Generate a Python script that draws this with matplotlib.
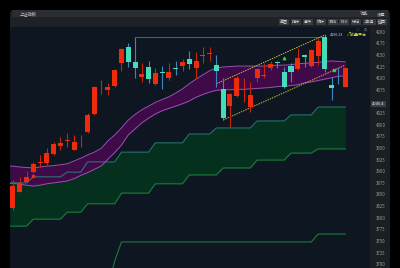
import matplotlib
matplotlib.use("Agg")
import matplotlib.pyplot as plt
import numpy as np
from matplotlib.patches import Rectangle, FancyBboxPatch

plt.rcParams['font.family'] = ['Noto Sans CJK SC', 'DejaVu Sans']

# --- candle data ---
opens = [3821, 3856, 3877, 3898, 3917, 3918, 3937, 3954, 3966, 3946,
         3964, 3984, 4023, 4080, 4075, 4083, 4133, 4167, 4135, 4103,
         4124, 4088, 4113, 4100, 4122, 4126, 4141, 4122, 4147, 4153,
         4128, 4077, 4040, 4062, 4074, 4038, 4100, 4104, 4122, 4133,
         4113, 4126, 4120, 4150, 4126, 4148, 4189, 4085, 4107, 4081]
closes = [3868, 3875, 3888, 3916, 3918, 3939, 3959, 3961, 3967, 3963,
          3965, 4021, 4081, 4081, 4081, 4118, 4163, 4135, 4122, 4109,
          4098, 4111, 4111, 4113, 4120, 4135, 4131, 4137, 4148, 4154,
          4116, 4015, 4066, 4100, 4075, 4064, 4120, 4105, 4131, 4132,
          4081, 4113, 4143, 4146, 4161, 4180, 4120, 4079, 4106, 4122]
highs = [3881, 3888, 3901, 3920, 3935, 3950, 3963, 3974, 3982, 3978,
         3978, 4025, 4083, 4096, 4090, 4120, 4165, 4176, 4189, 4133,
         4137, 4122, 4126, 4133, 4137, 4141, 4159, 4156, 4167, 4167,
         4150, 4100, 4068, 4105, 4100, 4092, 4122, 4133, 4137, 4137,
         4124, 4133, 4165, 4151, 4163, 4187, 4195, 4103, 4122, 4124]
lows = [3817, 3855, 3875, 3897, 3909, 3914, 3935, 3946, 3952, 3945,
        3952, 3982, 4021, 4066, 4064, 4081, 4116, 4124, 4100, 4092,
        4090, 4086, 4077, 4096, 4107, 4116, 4120, 4098, 4133, 4137,
        4081, 4010, 3995, 4060, 4049, 4027, 4092, 4100, 4118, 4122,
        4079, 4092, 4118, 4124, 4124, 4128, 4113, 4053, 4088, 4081]

# purple moving-average band
band_upper = [3911, 3909, 3908, 3907, 3909, 3911, 3912, 3914, 3916, 3922,
              3928, 3935, 3941, 3949, 3965, 3978, 3993, 4010, 4022, 4032,
              4040, 4048, 4054, 4060, 4068, 4077, 4088, 4098, 4107, 4116,
              4122, 4124, 4125, 4126, 4126, 4126, 4126, 4126, 4127, 4128,
              4128, 4129, 4131, 4132, 4133, 4134, 4136, 4137, 4136, 4135]
band_lower = [3874, 3872, 3870, 3868, 3870, 3873, 3875, 3877, 3879, 3884,
              3891, 3897, 3904, 3911, 3926, 3940, 3956, 3978, 3991, 4004,
              4014, 4023, 4030, 4035, 4040, 4045, 4051, 4059, 4065, 4070,
              4074, 4075, 4075, 4076, 4076, 4077, 4078, 4079, 4080, 4082,
              4083, 4084, 4086, 4090, 4092, 4095, 4098, 4101, 4104, 4105]

# green step channel
chan_top = [3875, 3875, 3875, 3888, 3888, 3888, 3888, 3888, 3898, 3898,
            3898, 3920, 3920, 3920, 3920, 3920, 3941, 3941, 3941, 3941,
            3941, 3961, 3961, 3961, 3961, 3961, 3980, 3980, 3980, 3980,
            3993, 3993, 3993, 3993, 3993, 3993, 4008, 4008, 4008, 4008,
            4008, 4021, 4021, 4021, 4021, 4038, 4038, 4038, 4038, 4038]
chan_bottom = [3782, 3782, 3782, 3797, 3797, 3797, 3797, 3797, 3812, 3812,
               3812, 3830, 3830, 3830, 3830, 3830, 3853, 3853, 3853, 3853,
               3853, 3873, 3873, 3873, 3873, 3873, 3892, 3892, 3892, 3892,
               3892, 3907, 3907, 3907, 3907, 3907, 3924, 3924, 3924, 3924,
               3924, 3939, 3939, 3939, 3939, 3948, 3948, 3948, 3948, 3948]
support = [3600, 3600, 3600, 3600, 3600, 3600, 3600, 3600, 3600, 3600,
           3600, 3600, 3600, 3600, 3650, 3707, 3748, 3748, 3748, 3748,
           3748, 3748, 3748, 3748, 3748, 3748, 3748, 3748, 3748, 3748,
           3748, 3748, 3748, 3748, 3748, 3748, 3748, 3748, 3748, 3748,
           3748, 3748, 3748, 3748, 3748, 3765, 3765, 3765, 3765, 3765]

# trend channel (start idx, start price, end idx, end price)
trend_upper = (30, 4088, 46, 4193)
trend_lower = (31, 4010, 49, 4128)

price_ticks = [4200, 4175, 4150, 4125, 4100, 4075, 4025, 4000, 3975, 3950,
               3925, 3900, 3875, 3850, 3825, 3800, 3775, 3750, 3725, 3700]
last_price = 4045.4
toolbar_buttons = ["画图", "指标", "事件", "统计", "测线", "F10", "标记", "+自选", "返回"]

W, H = 400, 268
fig = plt.figure(figsize=(W / 100, H / 100), dpi=100)
fig.patch.set_facecolor('black')

# window chrome
fig.patches.append(FancyBboxPatch((10 / W, -0.05), 380 / W, 1.05 - 10 / H,
                                  boxstyle="round,pad=0,rounding_size=0.012",
                                  transform=fig.transFigure, facecolor='#1b1e22',
                                  edgecolor='none', zorder=0))
fig.patches.append(Rectangle((12 / W, 1 - 17 / H), 376 / W, 7 / H, transform=fig.transFigure,
                             facecolor='#2a2d32', edgecolor='none', zorder=1))
fig.patches.append(Rectangle((10 / W, 1 - 26 / H), 380 / W, 9 / H, transform=fig.transFigure,
                             facecolor='#1e2125', edgecolor='none', zorder=1))
fig.text(20 / W, 1 - 13.8 / H, "上证指数", fontsize=3.1, color='#c8c8c8', va='center', zorder=3)
fig.text(364 / W, 1 - 13.8 / H, "功能", fontsize=3.1, color='#c8c8c8', va='center', ha='center', zorder=3)
fig.text(381 / W, 1 - 13.8 / H, "设置", fontsize=3.1, color='#c8c8c8', va='center', ha='center', zorder=3)
bx = [284, 296, 308, 321, 333, 344, 356, 369, 382]
for name, cx in zip(toolbar_buttons, bx):
    bw = 13 if name == "+自选" else 10.5
    fig.patches.append(Rectangle(((cx - bw / 2) / W, 1 - 25 / H), bw / W, 6 / H,
                                 transform=fig.transFigure, facecolor='#383b40',
                                 edgecolor='none', zorder=2))
    fig.text(cx / W, 1 - 22 / H, name, fontsize=2.9, color='#dcdcdc',
             ha='center', va='center', zorder=3)

# price axis panel
pax = fig.add_axes([370 / W, 0, 18 / W, 241 / H])
pax.set_facecolor('#1c1f24')
pax.set_xticks([])
pax.set_yticks([])
for s in pax.spines.values():
    s.set_visible(False)

ax = fig.add_axes([10 / W, 0, 360 / W, 241 / H])
ax.set_facecolor('#0e1621')
ax.set_zorder(pax.get_zorder() + 1)
for s in ax.spines.values():
    s.set_visible(False)

idx = np.arange(len(opens))
x0, x1 = -0.44, 52.65
ax.set_xlim(x0, x1)
ax.set_ylim(3692, 4210)

# green step channel
cx_ = np.r_[x0, idx]
top = np.r_[chan_top[0], chan_top]
bot = np.r_[chan_bottom[0], chan_bottom]
ax.fill_between(cx_, bot, top, color='#04301d', lw=0, zorder=1)
ax.plot(cx_, bot, color='#1b7a3c', lw=0.8, zorder=2)
ax.plot(idx, support, color='#1b7a3c', lw=0.8, zorder=2)

# purple band
up = np.r_[band_upper[0], band_upper]
lo = np.r_[band_lower[0], band_lower]
ax.fill_between(cx_, lo, up, color='#3e0b48', lw=0, zorder=3)
ax.plot(cx_, top, color='#2a8a80', lw=0.8, alpha=0.8, zorder=4)
ax.plot(cx_, up, color='#9b50b4', lw=0.7, zorder=4)
ax.plot(cx_, lo, color='#9b50b4', lw=0.7, zorder=4)

# resistance line from the high of candle 18
ax.hlines(highs[18], 18, 46, color='#1d7a48', lw=0.8, zorder=4)

# trend channel
for (i0, p0, i1, p1) in (trend_upper, trend_lower):
    ax.plot([i0, i1], [p0, p1], color='#bdbd3a', lw=0.7, ls=(0, (1.5, 1)), zorder=4)

# candles
o = np.array(opens, float)
c = np.array(closes, float)
h = np.array(highs, float)
l = np.array(lows, float)
upc = c >= o
body_col = np.where(upc, '#ef2b0d', '#44dcb9')
wick_col = np.where(upc, '#c8230c', '#3f86c0')
ax.vlines(idx, l, h, colors=wick_col, lw=0.8, zorder=5)
bottoms = np.minimum(o, c)
heights = np.maximum(np.abs(c - o), 1.8)
ax.bar(idx, heights, bottom=bottoms, width=0.74, color=body_col, lw=0, zorder=6)

# small signal marks
ax.scatter([3], [3889], marker='s', s=2, color='#ef2b0d', zorder=6)
ax.scatter([40], [4143], marker='^', s=3, color='#2ecc40', zorder=6)
ax.scatter([47.3], [4118], marker='s', s=2, color='#2ecc40', zorder=6)

# annotations near the recent high
ax.text(46.7, 4193, "4190.23", fontsize=2.7, color='#d0d0d0', va='center', zorder=7)
ax.text(49.3, 4192, "√放量平台", fontsize=2.9, color='#d8d040', va='center', zorder=7)
ax.text(50.9, 4204, "◇", fontsize=2.6, color='#888888', va='center', ha='center', zorder=7)
ax.text(52.0, 4204, "⊡", fontsize=2.6, color='#888888', va='center', ha='center', zorder=7)

# price axis labels
ax.yaxis.tick_right()
ax.set_yticks(price_ticks)
ax.set_yticklabels([str(t) for t in price_ticks])
ax.tick_params(axis='y', length=0, pad=4.5, labelsize=3.1, labelcolor='#9c9c9c')
ax.set_xticks([])
ax.annotate(f"{last_price}", xy=(1.0, last_price), xycoords=('axes fraction', 'data'),
            xytext=(1.5, 0), textcoords='offset points', fontsize=3, color='#e8e8e8',
            va='center', ha='left',
            bbox=dict(boxstyle='square,pad=0.25', facecolor='#3b3e44', edgecolor='none'),
            annotation_clip=False, zorder=8)

fig.savefig("out.png", dpi=100, facecolor=fig.get_facecolor())
